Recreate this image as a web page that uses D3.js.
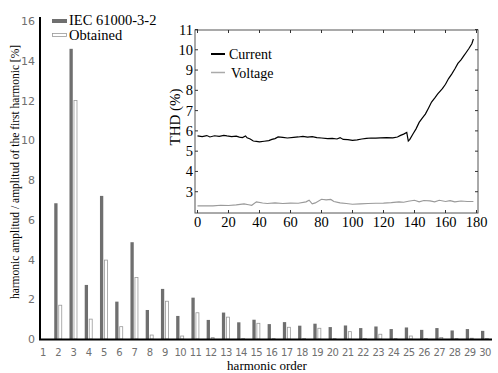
<!DOCTYPE html>
<html>
<head>
<meta charset="utf-8">
<script src="https://cdn.jsdelivr.net/npm/d3@7"></script>
<style>
  body { margin: 0; background: #fff; }
  svg { display: block; }
</style>
</head>
<body>
<div id="chart"></div>
<script>
// harmonic orders 1..30
var orders = d3.range(1, 31);
// IEC 61000-3-2 limits [% of first harmonic]
var iecValues = [0, 6.83, 14.6, 2.72, 7.2, 1.88, 4.87, 1.46, 2.52, 1.16,
                 2.08, 0.96, 1.33, 0.84, 0.97, 0.75, 0.85, 0.67, 0.77, 0.6,
                 0.68, 0.55, 0.63, 0.5, 0.58, 0.46, 0.55, 0.43, 0.5, 0.41];
// obtained [% of first harmonic]
var obtainedValues = [0, 1.7, 12.0, 1.0, 3.97, 0.62, 3.09, 0.2, 1.9, 0.15,
                      1.32, 0.07, 1.1, 0.02, 0.79, 0.02, 0.59, 0.02, 0.54, 0.02,
                      0.37, 0.02, 0.24, 0.02, 0.15, 0.02, 0.08, 0.02, 0.04, 0.02];
var mainYTicks = [0, 2, 4, 6, 8, 10, 12, 14, 16];

// inset: THD over time
var thdTime = [0, 3, 6, 8, 11, 14, 17, 19, 22, 25, 27, 29, 31, 32, 34, 36, 38, 40, 43, 46,
               48, 50, 52, 55, 58, 62, 65, 68, 71, 74, 77, 80, 84, 87, 90, 92, 94, 97, 100, 103,
               106, 109, 112, 115, 118, 122, 126, 129, 131, 133, 135, 136, 137, 139, 141, 143, 145, 147, 149, 151,
               153, 155, 158, 160, 162, 164, 166, 168, 170, 172, 173, 175, 177, 178];
var thdCurrent = [5.75, 5.72, 5.77, 5.7, 5.76, 5.73, 5.78, 5.75, 5.72, 5.74, 5.69, 5.67, 5.75, 5.66, 5.6, 5.5, 5.48, 5.46, 5.49, 5.52,
                  5.58, 5.62, 5.7, 5.68, 5.65, 5.68, 5.7, 5.73, 5.69, 5.72, 5.67, 5.65, 5.62, 5.63, 5.6, 5.67, 5.58, 5.57, 5.53, 5.56,
                  5.6, 5.63, 5.65, 5.64, 5.66, 5.67, 5.66, 5.7, 5.78, 5.84, 5.92, 5.5, 5.58, 5.85, 6.1, 6.42, 6.63, 6.83, 7.12, 7.42,
                  7.62, 7.83, 8.08, 8.3, 8.58, 8.8, 9.05, 9.33, 9.5, 9.72, 9.83, 10.05, 10.3, 10.53];
var thdVoltTime = [0, 5, 10, 15, 20, 25, 30, 33, 35, 38, 42, 45, 50, 55, 60, 65, 70, 72, 74, 76,
                   80, 83, 86, 88, 92, 96, 100, 105, 110, 115, 120, 125, 130, 133, 136, 140, 143, 146, 150, 153,
                   156, 160, 163, 166, 170, 174, 178];
var thdVoltage = [2.3, 2.31, 2.3, 2.33, 2.32, 2.35, 2.4, 2.36, 2.33, 2.5, 2.44, 2.42, 2.45, 2.42, 2.44, 2.43, 2.5, 2.58, 2.4, 2.45,
                  2.63, 2.6, 2.62, 2.52, 2.45, 2.42, 2.38, 2.4, 2.42, 2.43, 2.44, 2.46, 2.5, 2.48, 2.53, 2.58, 2.5, 2.57, 2.55, 2.5,
                  2.58, 2.52, 2.56, 2.5, 2.54, 2.52, 2.52];
var insetXTicks = [0, 20, 40, 60, 80, 100, 120, 140, 160, 180];
var insetYTicks = [3, 4, 5, 6, 7, 8, 9, 10, 11];

var w = 498,
    h = 373,
    serif = "'Liberation Serif', 'Times New Roman', serif",
    sans = "'DejaVu Sans', Verdana, sans-serif";

var svg = d3.select("#chart")
    .append("svg")
    .attr("width", w)
    .attr("height", h);

// ---------- main bar chart ----------
var x = d3.scalePoint().domain(orders).range([43, 485]);
var y = d3.scaleLinear().domain([0, 16]).range([339, 21]);

var bars = svg.append("g");

bars.selectAll("rect.iec")
    .data(orders)
    .enter()
    .append("rect")
    .attr("class", "iec")
    .attr("x", function(d) { return x(d) - 4; })
    .attr("width", 3.3)
    .attr("y", function(d, i) { return y(iecValues[i]); })
    .attr("height", function(d, i) { return y(0) - y(iecValues[i]); })
    .style("fill", "#6f6f6f");

bars.selectAll("rect.obt")
    .data(orders)
    .enter()
    .append("rect")
    .attr("class", "obt")
    .attr("x", function(d) { return x(d) + 0.5; })
    .attr("width", 3)
    .attr("y", function(d, i) { return y(obtainedValues[i]); })
    .attr("height", function(d, i) { return y(0) - y(obtainedValues[i]); })
    .style("fill", "#fff")
    .style("stroke", "#9a9a9a")
    .style("stroke-width", 0.8);

// axis lines
svg.append("line")
    .attr("x1", 40).attr("x2", 40)
    .attr("y1", 17).attr("y2", 340)
    .style("stroke", "#000").style("stroke-width", 2);
svg.append("line")
    .attr("x1", 39).attr("x2", 492)
    .attr("y1", 339.5).attr("y2", 339.5)
    .style("stroke", "#000").style("stroke-width", 2);

svg.selectAll("text.ytick")
    .data(mainYTicks)
    .enter()
    .append("text")
    .attr("class", "ytick")
    .attr("x", 35)
    .attr("y", function(d) { return y(d) + 4; })
    .attr("text-anchor", "end")
    .style("font-family", sans)
    .style("font-size", "11px")
    .style("fill", "#707070")
    .text(function(d) { return d; });

svg.selectAll("text.xtick")
    .data(orders)
    .enter()
    .append("text")
    .attr("class", "xtick")
    .attr("x", function(d) { return x(d); })
    .attr("y", 355.5)
    .attr("text-anchor", "middle")
    .style("font-family", sans)
    .style("font-size", "10px")
    .style("letter-spacing", "-0.6px")
    .style("fill", "#707070")
    .text(function(d) { return d; });

svg.append("text")
    .attr("x", 267)
    .attr("y", 370)
    .attr("text-anchor", "middle")
    .style("font-family", serif)
    .style("font-size", "13px")
    .text("harmonic order");

svg.append("text")
    .attr("transform", "translate(19,172) rotate(-90)")
    .attr("text-anchor", "middle")
    .style("font-family", serif)
    .style("font-size", "11.5px")
    .text("harmonic amplitud / amplitud of the first harmonic [%]");

// legend
svg.append("rect")
    .attr("x", 52).attr("y", 19)
    .attr("width", 15).attr("height", 4)
    .style("fill", "#6f6f6f");
svg.append("text")
    .attr("x", 69).attr("y", 25)
    .style("font-family", serif).style("font-size", "14.5px")
    .text("IEC 61000-3-2");
svg.append("rect")
    .attr("x", 52.5).attr("y", 33.5)
    .attr("width", 14).attr("height", 3)
    .style("fill", "#fff").style("stroke", "#9a9a9a").style("stroke-width", 0.8);
svg.append("text")
    .attr("x", 69).attr("y", 39.5)
    .style("font-family", serif).style("font-size", "14.5px")
    .text("Obtained");

// ---------- inset THD chart ----------
var fx = { left: 195, right: 478, top: 30, bottom: 213 };
var ix = d3.scaleLinear().domain([0, 180]).range([197.5, 476.5]);
var iy = d3.scaleLinear().domain([2, 11]).range([212, 29.5]);

var inset = svg.append("g");

inset.append("rect")
    .attr("x", fx.left).attr("y", fx.top)
    .attr("width", fx.right - fx.left).attr("height", fx.bottom - fx.top)
    .style("fill", "#fff")
    .style("stroke", "#555")
    .style("stroke-width", 1);

// inward ticks on all four sides
inset.selectAll("line.bt")
    .data(insetXTicks)
    .enter()
    .append("line")
    .attr("x1", function(d) { return ix(d); })
    .attr("x2", function(d) { return ix(d); })
    .attr("y1", fx.bottom).attr("y2", fx.bottom - 3)
    .style("stroke", "#333");
inset.selectAll("line.tt")
    .data(insetXTicks)
    .enter()
    .append("line")
    .attr("x1", function(d) { return ix(d); })
    .attr("x2", function(d) { return ix(d); })
    .attr("y1", fx.top).attr("y2", fx.top + 3)
    .style("stroke", "#333");
inset.selectAll("line.lt")
    .data(insetYTicks)
    .enter()
    .append("line")
    .attr("x1", fx.left).attr("x2", fx.left + 3)
    .attr("y1", function(d) { return iy(d); })
    .attr("y2", function(d) { return iy(d); })
    .style("stroke", "#333");
inset.selectAll("line.rt")
    .data(insetYTicks)
    .enter()
    .append("line")
    .attr("x1", fx.right).attr("x2", fx.right - 3)
    .attr("y1", function(d) { return iy(d); })
    .attr("y2", function(d) { return iy(d); })
    .style("stroke", "#333");

inset.selectAll("text.ixt")
    .data(insetXTicks)
    .enter()
    .append("text")
    .attr("x", function(d) { return ix(d); })
    .attr("y", 226.5)
    .attr("text-anchor", "middle")
    .style("font-family", serif)
    .style("font-size", "14.5px")
    .text(function(d) { return d; });

inset.selectAll("text.iyt")
    .data(insetYTicks)
    .enter()
    .append("text")
    .attr("x", 193)
    .attr("y", function(d) { return iy(d) + 5; })
    .attr("text-anchor", "end")
    .style("font-family", serif)
    .style("font-size", "14.5px")
    .text(function(d) { return d; });

inset.append("text")
    .attr("transform", "translate(180,117) rotate(-90)")
    .attr("text-anchor", "middle")
    .style("font-family", serif)
    .style("font-size", "15px")
    .text("THD (%)");

var line = d3.line()
    .x(function(d) { return ix(d[0]); })
    .y(function(d) { return iy(d[1]); });

inset.append("path")
    .datum(d3.zip(thdVoltTime, thdVoltage))
    .attr("d", line)
    .style("fill", "none")
    .style("stroke", "#9a9a9a")
    .style("stroke-width", 1.1);

inset.append("path")
    .datum(d3.zip(thdTime, thdCurrent))
    .attr("d", line)
    .style("fill", "none")
    .style("stroke", "#000")
    .style("stroke-width", 1.2);

// inset legend
inset.append("line")
    .attr("x1", 211).attr("x2", 225)
    .attr("y1", 54).attr("y2", 54)
    .style("stroke", "#000").style("stroke-width", 2);
inset.append("text")
    .attr("x", 229).attr("y", 58.5)
    .style("font-family", serif).style("font-size", "14px")
    .text("Current");
inset.append("line")
    .attr("x1", 211).attr("x2", 225)
    .attr("y1", 72.5).attr("y2", 72.5)
    .style("stroke", "#aaa").style("stroke-width", 1.5);
inset.append("text")
    .attr("x", 231).attr("y", 77.5)
    .style("font-family", serif).style("font-size", "14px")
    .text("Voltage");
</script>
</body>
</html>
